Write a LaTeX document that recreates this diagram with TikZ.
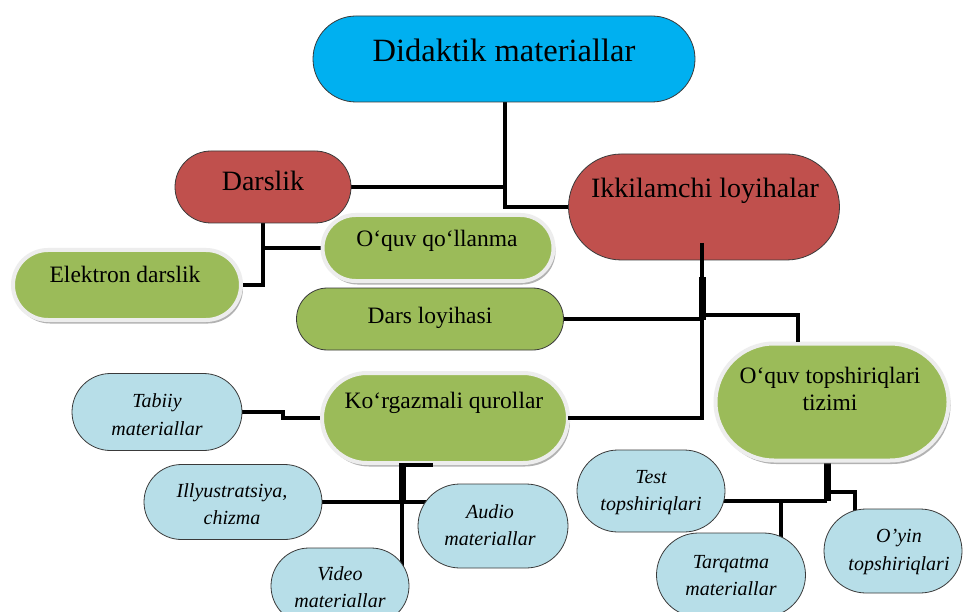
\documentclass[tikz,border=0pt]{standalone}
\usepackage{fontspec}
\setmainfont{Liberation Serif}
\usetikzlibrary{shapes.misc,shadows,backgrounds,calc}
\definecolor{cblue}{HTML}{00B0F0}
\definecolor{cred}{HTML}{C0504D}
\definecolor{cgreen}{HTML}{9BBB59}
\definecolor{clight}{HTML}{B7DEE8}
\definecolor{cedge}{HTML}{3A3A3A}
\begin{document}
\begin{tikzpicture}[x=1pt,y=-1pt,
  pill/.style={rounded rectangle, draw=cedge, line width=0.8pt, inner sep=0pt, outer sep=0pt},
  topbox/.style={pill, fill=cblue},
  redbox/.style={pill, fill=cred},
  grnbox/.style={pill, fill=cgreen},
  glowbox/.style={rounded rectangle, inner sep=0pt, outer sep=0pt, fill=cgreen, draw=black!7, line width=4pt,
    drop shadow={shadow xshift=2pt, shadow yshift=-3.5pt, fill=black!50, opacity=0.6}},
  lightbox/.style={pill, fill=clight},
  txt/.style={anchor=base, inner sep=0pt, font=\fontsize{23.5}{27}\selectfont},
  itxt/.style={anchor=base, inner sep=0pt, font=\fontsize{20}{24}\selectfont\itshape},
  conn/.style={line width=3.5pt, draw=black},
  fatconn/.style={line width=7pt, draw=black}
]
\useasboundingbox (0,0) rectangle (963,612);

% shapes
\node[topbox, minimum width=382, minimum height=86] (dm) at (504,59) {};
\node[redbox, minimum width=176, minimum height=72] (ds) at (263,187) {};
\node[redbox, minimum width=271, minimum height=106] (ik) at (704,207) {};
\node[glowbox, minimum width=228, minimum height=70] (ed) at (127,285) {};
\node[glowbox, minimum width=231, minimum height=66] (oq) at (438,248) {};
\node[grnbox, minimum width=267, minimum height=62] (dl) at (430,319) {};
\node[glowbox, minimum width=246, minimum height=90] (kq) at (445,418) {};
\node[glowbox, minimum width=233, minimum height=117] (qt) at (832,402) {};
\node[lightbox, minimum width=170, minimum height=77] (tm) at (157,412) {};
\node[lightbox, minimum width=178, minimum height=75] (il) at (233,502) {};
\node[lightbox, minimum width=138, minimum height=76] (vm) at (340,586) {};
\node[lightbox, minimum width=150, minimum height=84] (al) at (493,526) {};
\node[lightbox, minimum width=148, minimum height=82] (ts) at (651,491) {};
\node[lightbox, minimum width=149, minimum height=84] (tq) at (731,575) {};
\node[lightbox, minimum width=138, minimum height=84] (oy) at (893,551) {};

% texts
\node[txt, font=\fontsize{32.5}{38}\selectfont] (dmt) at (504,62) {Didaktik materiallar};
\node[txt, font=\fontsize{28}{33}\selectfont] (dst) at (263,191) {Darslik};
\node[txt, font=\fontsize{28}{33}\selectfont] (ikt) at (705,198) {Ikkilamchi loyihalar};
\node[txt] (edt) at (125,283) {Elektron darslik};
\node[txt] (oqt) at (437,247) {O‘quv qo‘llanma};
\node[txt] (dlt) at (430,323) {Dars loyihasi};
\node[txt] (kqt) at (444,408) {Ko‘rgazmali qurollar};
\node[txt] (qt1) at (830,383) {O‘quv topshiriqlari};
\node[txt] (qt2) at (830,410) {tizimi};
\node[itxt] (tm1) at (157,407) {Tabiiy};
\node[itxt] (tm2) at (157,435) {materiallar};
\node[itxt] (il1) at (232,497) {Illyustratsiya,};
\node[itxt] (il2) at (232,524) {chizma};
\node[itxt] (vm1) at (340,580) {Video};
\node[itxt] (vm2) at (340,607) {materiallar};
\node[itxt] (al1) at (490,518) {Audio};
\node[itxt] (al2) at (490,545) {materiallar};
\node[itxt] (ts1) at (651,483) {Test};
\node[itxt] (ts2) at (651,510) {topshiriqlari};
\node[itxt] (tq1) at (731,568) {Tarqatma};
\node[itxt] (tq2) at (731,595) {materiallar};
\node[itxt] (oy1) at (899,542) {O’yin};
\node[itxt] (oy2) at (899,570) {topshiriqlari};

% junction points
\coordinate (dmb) at (505,102);
\coordinate (ikb) at (702,243);
\coordinate (qtt) at (798,342);
\coordinate (kqb) at (402,465);
\coordinate (qtb) at (827,463);
\coordinate (qtm) at (827,501);
\coordinate (tqj) at (781,501);
\coordinate (oyj) at (828,492);

\begin{pgfonlayer}{background}
\fill[white] (0,0) rectangle (963,612);
\draw[conn] (dmb) |- (ik.west);
\draw[conn] (ds.east) -- (ds.east -| dmb);
\draw[conn] (ds.south) |- (ed.east);
\draw[conn] (ds.south |- oq.west) -- (oq.west);
\draw[conn] (tm.east) -- ++(41,0) |- (kq.west);
\draw[conn] (kqb) -- (kqb |- vm);
\draw[conn] (il.east) -- (il.east -| al);
\draw[fatconn] (qtb) -- (qtm);
\draw[conn] (qtm) -- (qtm -| ts);
\draw[conn] (tqj) -- (tqj |- tq);
\draw[conn] (oyj) -| ($(oy)+(-38,0)$);
\end{pgfonlayer}

\draw[fatconn] (kqb) -- ++(0,38);
\draw[conn] ($(kqb)+(-3,0)$) -- ++(34,0);
\draw[conn] (ikb) |- (kq.east);
\draw[fatconn] ($(ikb)+(0,34)$) -- ($(ikb)+(0,77)$);
\draw[conn] (dl.east) -- (dl.east -| ikb);
\draw[conn] (qtt) |- ($(ikb)+(0,72)$);
\end{tikzpicture}
\end{document}
